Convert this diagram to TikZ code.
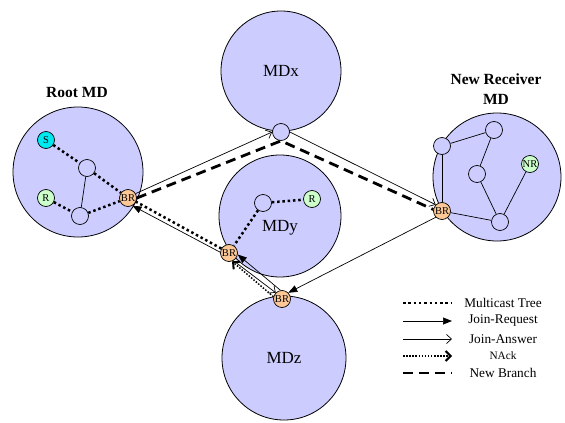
\documentclass[tikz,border=0pt]{standalone}
\usepackage{fontspec}
\setmainfont{Liberation Serif}
\usetikzlibrary{arrows.meta}
\definecolor{mdfill}{RGB}{204,204,255}
\definecolor{brfill}{RGB}{253,200,150}
\definecolor{srcfill}{RGB}{0,232,240}
\definecolor{rcvfill}{RGB}{204,255,204}

\begin{document}
\begin{tikzpicture}[x=1pt,y=-1pt,
  domain/.style={circle, draw, line width=0.8pt, fill=mdfill, inner sep=0pt,
    minimum size=#1, font=\fontsize{17}{17}\selectfont},
  router/.style={circle, draw, line width=0.7pt, fill=mdfill, inner sep=0pt,
    minimum size=17pt, font=\fontsize{10.5}{10.5}\selectfont},
  border/.style={router, fill=brfill},
  source/.style={router, fill=srcfill},
  receiver/.style={router, fill=rcvfill},
  title/.style={font=\bfseries\fontsize{15.5}{20}\selectfont, align=center},
  legtext/.style={font=\fontsize{13.3}{15}\selectfont, anchor=center},
  link/.style={line width=0.7pt},
  tree/.style={line width=2.5pt, dash pattern=on 2.5pt off 2.8pt},
  request/.style={line width=0.7pt, -{Triangle[length=9pt,width=7pt]}},
  answer/.style={line width=0.7pt, -{Straight Barb[length=5pt,width=9pt,line width=0.7pt]}},
  nack/.style={line width=1.5pt, dash pattern=on 1.5pt off 1.6pt,
    -{Straight Barb[length=5pt,width=10pt,line width=2pt]}},
  branch/.style={line width=2.8pt, dash pattern=on 10pt off 6pt}
]
\useasboundingbox (0,0) rectangle (565,423);

% multicast domains
\node[domain=130pt] (root) at (78,172) {};
\node[domain=120pt] (mdx) at (281,71) {MDx};
\node[domain=122pt] (mdy) at (280,216) {};
\node[domain=124pt] (mdz) at (284,358) {MDz};
\node[domain=128pt] (newmd) at (497,177) {};
\node[font=\fontsize{17}{17}\selectfont] (mdylabel) at (280,228) {MDy};

\node[title] (roottitle) at (77,93) {Root MD};
\node[title] (newtitle) at (496,89) {New Receiver\\MD};

% routers of the root domain
\node[source] (s) at (46,140) {S};
\node[receiver] (r1) at (46,198) {R};
\node[router] (u1) at (87,168) {};
\node[router] (l1) at (80,216) {};
\node[border] (rbr) at (128,198) {BR};

% routers of MDx, MDy and MDz
\node[router] (xn) at (281,132) {};
\node[router] (yn) at (263,203) {};
\node[receiver] (r2) at (312,199) {R};
\node[border] (ybr) at (229,253) {BR};
\node[border] (zbr) at (282,299) {BR};

% routers of the new receiver domain
\node[router] (na) at (442,146) {};
\node[router] (nb) at (494,130) {};
\node[router] (nc) at (477,174) {};
\node[receiver] (nr) at (530,164) {NR};
\node[router] (nd) at (500,222) {};
\node[border] (nbr) at (442,211) {BR};

% multicast tree inside the domains
\draw[tree] (s) -- (u1);
\draw[tree] (u1) -- (rbr);
\draw[tree] (r1) -- (l1);
\draw[tree] (l1) -- (rbr);
\draw[link] (u1) -- (l1);
\draw[tree] (yn) -- (r2);
\draw[tree] (yn) -- (ybr);

% links of the new receiver domain
\draw[link] (na) -- (nb);
\draw[link] (nb) -- (nc);
\draw[link] (na) -- (nbr);
\draw[link] (nc) -- (nd);
\draw[link] (nr) -- (nd);
\draw[link] (nbr) -- (nd);

% inter-domain signalling
\draw[branch] (rbr.east) -- (xn.south) -- (nbr.170);
\draw[answer] (rbr.30) -- (xn.west);
\draw[answer] (xn.east) -- (nbr.north west);
\draw[request] (nbr.south west) -- (zbr.north east);
\draw[request] (zbr.100) -- (ybr.-10);
\draw[answer] (ybr.-60) -- (zbr.135);
\draw[nack] (zbr.165) -- (ybr.-70);
\draw[request] (ybr.175) -- (rbr.-60);
\draw[tree] (ybr.150) -- (rbr.-25);

% legend
\coordinate (a1) at (403,303); \coordinate (b1) at (452,303);
\coordinate (a2) at (403,321); \coordinate (b2) at (452,321);
\coordinate (a3) at (403,339); \coordinate (b3) at (452,339);
\coordinate (a4) at (403,356); \coordinate (b4) at (452,356);
\coordinate (a5) at (403,373); \coordinate (b5) at (452,373);
\draw[tree] (a1) -- (b1);
\draw[request] (a2) -- (b2);
\draw[answer] (a3) -- (b3);
\draw[nack] (a4) -- (b4);
\draw[branch] (a5) -- (b5);
\node[legtext] (t1) at (503,303) {Multicast Tree};
\node[legtext] (t2) at (503,321) {Join-Request};
\node[legtext] (t3) at (503,339) {Join-Answer};
\node[legtext, font=\fontsize{11.3}{13}\selectfont] (t4) at (503,356) {NAck};
\node[legtext] (t5) at (503,373) {New Branch};
\end{tikzpicture}
\end{document}
